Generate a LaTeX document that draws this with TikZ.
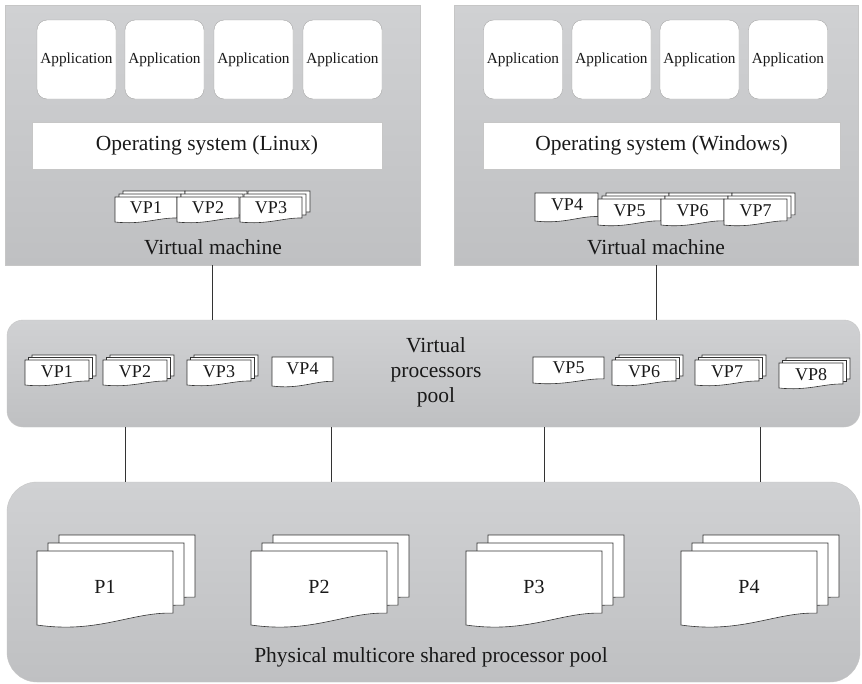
\documentclass[tikz,border=0pt]{standalone}
\usepackage{fontspec}
\setmainfont{Liberation Serif}
\usetikzlibrary{positioning,calc}
\definecolor{graytop}{RGB}{208,209,211}
\definecolor{graybottom}{RGB}{191,192,194}
\definecolor{inkgray}{RGB}{25,25,25}
% one sheet with a wavy lower edge, top-left at (#1,#2), size #3 x #4
\newcommand{\docsheet}[4]{%
  \begin{scope}[shift={(#1,#2)},xscale=#3,yscale=#4]
    \draw[sheet] (0,0) -- (1,0) -- (1,0.84) .. controls (0.7,0.82) and (0.45,1.12) .. (0,1) -- cycle;
  \end{scope}}
% three sheets, each behind one moved by (#5,-#6)
\newcommand{\docstack}[6]{%
  \docsheet{{#1+2*#5}}{{#2-2*#6}}{#3}{#4}
  \docsheet{{#1+#5}}{{#2-#6}}{#3}{#4}
  \docsheet{#1}{#2}{#3}{#4}}
\begin{document}
\begin{tikzpicture}[x=1pt, y=-1pt,
    every node/.style={font=\fontsize{21.5}{25}\selectfont, text=inkgray},
    graybox/.style={draw=gray!45, top color=graytop, bottom color=graybottom, inner sep=0pt},
    appbox/.style={draw=gray!70, fill=white, rounded corners=10pt, minimum width=79pt, minimum height=79pt, inner sep=0pt, font=\fontsize{15.3}{17}\selectfont},
    osbox/.style={draw=gray!45, fill=white, minimum height=47pt, inner sep=0pt},
    sheet/.style={draw=black!80, fill=white, line width=0.6pt},
    vplabel/.style={font=\fontsize{18}{20}\selectfont, inner sep=0pt},
    plabel/.style={font=\fontsize{20}{22}\selectfont, inner sep=0pt},
    link/.style={draw=black!80, line width=1pt},
]
\useasboundingbox[fill=white] (0,0) rectangle (862,683);

% virtual machines
\node[graybox, minimum width=415pt, minimum height=260pt] (vmL) at (212.5,135) {};
\node[graybox, minimum width=404pt, minimum height=260pt] (vmR) at (656,135) {};
\foreach \x [count=\i] in {76.5,164.5,253.5,342.5}
  \node[appbox] (appL\i) at (\x,59.5) {Application};
\foreach \x [count=\i] in {523,611.5,699.5,788}
  \node[appbox] (appR\i) at (\x,59.5) {Application};
\node[osbox, minimum width=350pt] (osL) at (207,145.5) {Operating system (Linux)};
\node[osbox, minimum width=357pt] (osR) at (661.5,145.5) {Operating system (Windows)};

\foreach \x/\t [count=\i] in {115/VP1,177/VP2,240/VP3}{
  \docstack{\x}{197}{62}{25}{4}{3}
  \node[vplabel] (vmLvp\i) at ({\x+31},208) {\t};
}
\docsheet{535}{193}{63}{28}
\node[vplabel] (vmRvp4) at (567,205) {VP4};
\foreach \x/\t [count=\i from 5] in {598/VP5,661/VP6,724/VP7}{
  \docstack{\x}{199}{63}{26}{4}{3}
  \node[vplabel] (vmRvp\i) at ({\x+31.5},211) {\t};
}
\node (vmLname) at (213,247) {Virtual machine};
\node (vmRname) at (656,247) {Virtual machine};

% virtual processors pool
\node[graybox, rounded corners=16pt, minimum width=853pt, minimum height=107pt] (pool) at (433.5,373.5) {};
\foreach \x/\y/\t [count=\i] in {25/360/VP1,103/360/VP2,187/360/VP3,612/360/VP6,695/360/VP7,779/363/VP8}{
  \docstack{\x}{\y}{64}{25}{3.5}{2.5}
  \node[vplabel] (poolvp\i) at ({\x+32},{\y+12}) {\t};
}
\docsheet{272}{357}{61}{29}
\node[vplabel] (poolvp4) at (302.5,369) {VP4};
\docsheet{533}{357}{71}{26}
\node[vplabel] (poolvp5) at (568.5,368) {VP5};
\node[align=center] (poolname) at (436,372) {Virtual\\processors\\pool};

% physical processors pool
\node[graybox, rounded corners=30pt, minimum width=853pt, minimum height=200pt] (phys) at (433.5,582) {};
\foreach \x [count=\i] in {37,251,466,681}{
  \docstack{\x}{551}{136}{74}{11}{8}
  \node[plabel] (proc\i) at ({\x+68},587) {P\i};
}
\node (physname) at (431,657) {Physical multicore shared processor pool};

% links
\draw[link] (vmL.south) -- (vmL.south |- pool.north);
\draw[link] (vmR.south) -- (vmR.south |- pool.north);
\foreach \x [count=\i] in {125,331,544,760}{
  \coordinate (tap\i) at (\x,450);
  \draw[link] (tap\i |- pool.south) -- (tap\i |- phys.north);
}
\end{tikzpicture}
\end{document}
